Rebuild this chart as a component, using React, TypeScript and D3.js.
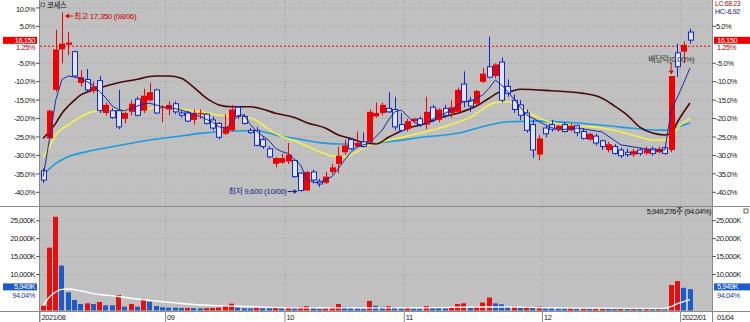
import React from 'react';
import * as d3 from 'd3';

const W = 750;
const H = 322;
const PLOT_L = 40;
const PLOT_R = 712;
const PRICE_TOP = 0;
const PRICE_BOT = 206;
const VOL_TOP = 207;
const VOL_BOT = 311;
const SLOTS = 107;

const STOCK_NAME = '코세스';
const BASE_PRICE = 15950;
const LAST_PRICE = 16150;
const LAST_CHANGE = '1.25%';
const HIGH_TEXT = '최고 17,350 (08/06)';
const LOW_TEXT = '최저 9,600 (10/06)';
const HIGH_INDEX = 3;
const LOW_INDEX = 41;
const EXDIV_INDEX = 100;
const EXDIV_TEXT = '배당락(0.00%)';
const LC_TEXT = 'LC:68.23';
const HC_TEXT = 'HC:-6.92';
const VOL_LAST = '5,949K';
const VOL_RATIO = '94.04%';
const VOL_TEXT = '5,949,276주 (94.04%)';
const CURRENT_DATE = '01/04';

const PCT_TICKS = [10, 5, -5, -10, -15, -20, -25, -30, -35, -40];
const VOL_TICKS = [10000, 15000, 20000, 25000];
const MONTH_LABELS = ['2021/08', '09', '10', '11', '12', '2022/01'];
const MONTH_START = [0, 20, 39, 58, 80, 102];

const OPEN = [10500, 11900, 14000, 15750, 15950, 15650, 14300, 14450, 13950, 14400, 13000, 13100, 13100, 12750, 13050, 13600, 13100, 13550, 14000, 13200, 13150, 13400, 13000, 13000, 12700, 12950, 12950, 12700, 12550, 12100, 12250, 13250, 12850, 12250, 12250, 11850, 11450, 10800, 10850, 10900, 10950, 10400, 9650, 10450, 10050, 9980, 10450, 10800, 11300, 11850, 11550, 11750, 11750, 12850, 13000, 13200, 13150, 12500, 12300, 12650, 12750, 12500, 13250, 12700, 13200, 13000, 13050, 14250, 13550, 13400, 14350, 15000, 14600, 15200, 14150, 13550, 13350, 13000, 12500, 11200, 12350, 12500, 12300, 12500, 12250, 12450, 12200, 11850, 12000, 11800, 11400, 11550, 11400, 11300, 11200, 11400, 11250, 11450, 11300, 11500, 11400, 15600, 15650, 16500];
const HIGH = [10600, 13150, 16600, 17350, 16500, 15700, 14850, 14900, 14350, 14600, 13450, 13200, 14000, 13050, 13550, 13700, 14050, 14300, 14050, 13350, 13500, 13500, 13100, 13100, 13150, 13150, 13000, 12850, 12600, 12950, 13350, 13300, 12950, 12350, 12400, 11950, 11550, 11100, 11250, 11700, 11000, 10450, 10500, 10550, 10150, 10450, 10800, 11550, 11850, 11900, 12200, 12150, 13150, 13450, 13450, 13900, 13700, 13000, 12750, 12800, 12850, 13700, 13350, 13200, 13350, 13550, 14100, 14800, 13700, 14000, 14950, 16300, 15150, 15400, 14450, 13800, 13550, 13150, 12700, 12050, 12450, 12700, 12500, 12600, 12550, 12500, 12350, 12150, 12100, 11850, 11750, 11650, 11500, 11450, 11450, 11500, 11550, 11550, 11550, 11600, 14600, 16000, 16100, 16650];
const LOW = [9970, 11850, 13900, 15150, 15500, 14550, 14150, 13950, 13850, 13000, 12900, 12750, 12300, 12550, 12900, 12850, 13000, 13500, 12950, 12600, 12900, 12950, 12800, 12600, 12500, 12750, 12500, 12250, 11850, 12050, 12200, 12750, 12500, 12100, 11550, 11450, 11050, 10650, 10800, 10800, 10200, 9600, 9620, 9960, 9800, 9930, 10350, 10400, 11200, 11400, 11500, 11500, 11700, 12800, 12900, 13000, 12250, 12200, 12200, 12600, 12400, 12300, 12600, 12600, 12800, 12800, 13000, 13250, 13050, 13300, 14300, 14500, 14500, 13450, 13700, 13000, 12700, 12150, 11050, 10950, 11950, 12200, 12200, 12150, 12200, 12000, 11850, 11800, 11600, 11400, 11300, 11200, 11050, 11100, 11100, 11150, 11200, 11150, 11250, 11200, 11300, 14550, 15150, 16000];
const CLOSE = [10100, 13100, 15750, 16000, 16050, 14600, 14550, 14000, 14150, 13100, 13350, 12800, 12400, 13000, 13400, 12900, 13750, 13900, 13000, 13250, 13350, 13050, 12900, 12650, 13000, 13000, 12550, 12350, 11950, 12400, 13150, 12850, 12550, 12150, 11600, 11550, 11100, 11050, 11050, 11200, 10250, 9650, 10450, 10100, 9930, 10250, 10650, 11150, 11600, 11450, 11700, 11550, 13050, 13000, 13350, 13050, 12400, 12250, 12650, 12750, 12500, 13050, 12700, 13150, 12900, 13250, 14000, 13500, 13300, 13950, 14700, 14550, 15100, 13550, 13850, 13150, 12900, 12250, 11400, 11900, 12100, 12300, 12450, 12200, 12450, 12150, 11900, 12100, 11700, 11550, 11650, 11250, 11150, 11200, 11350, 11250, 11450, 11250, 11450, 11250, 14600, 15000, 15950, 16150];
const VOLUME_K = [1340, 17500, 26100, 12500, 5060, 2920, 1810, 2000, 1810, 2370, 1450, 1450, 4320, 1060, 1810, 1060, 2920, 2450, 1250, 900, 780, 780, 700, 720, 650, 600, 650, 700, 800, 1400, 1900, 780, 600, 550, 700, 600, 600, 650, 600, 900, 800, 1000, 1200, 700, 500, 600, 900, 1800, 1000, 700, 600, 500, 2650, 1300, 1000, 1200, 900, 600, 800, 600, 500, 1200, 800, 700, 600, 800, 1800, 2000, 900, 1200, 2200, 3600, 2000, 1720, 1250, 1260, 970, 1060, 970, 1060, 700, 700, 600, 600, 620, 500, 520, 450, 460, 500, 450, 400, 450, 400, 450, 400, 450, 400, 450, 400, 7100, 8200, 6326, 5949];

// moving averages: [candle index, price]
const MA5 = [[0, 10250], [1, 11850], [2, 13550], [3, 14450], [4, 14600], [5, 14550], [6, 14500], [7, 14350], [8, 14200], [10, 13650], [11, 13300], [12, 13150], [13, 13100], [14, 13200], [15, 13300], [16, 13400], [17, 13420], [19, 13270], [20, 13250], [22, 13130], [24, 12950], [25, 12850], [27, 12600], [28, 12400], [29, 12340], [30, 12550], [31, 12900], [32, 12910], [33, 12500], [34, 12200], [36, 11800], [37, 11470], [38, 11330], [39, 11250], [41, 10750], [42, 10150], [43, 10000], [44, 9980], [46, 10250], [47, 10600], [48, 10970], [49, 11300], [50, 11540], [52, 11700], [54, 12260], [55, 12700], [56, 13050], [57, 13130], [58, 12870], [59, 12620], [60, 12480], [61, 12550], [62, 12730], [63, 12870], [64, 12990], [65, 13130], [66, 13350], [67, 13490], [68, 13490], [70, 13780], [71, 14070], [72, 14430], [73, 14210], [74, 13920], [77, 12910], [80, 12480], [82, 12260], [85, 12350], [89, 12180], [92, 11620], [97, 11400], [99, 11400], [100, 13090], [101, 13690], [102, 14300], [103, 14950]];
const MA_BROWN = [[0, 11900], [2, 12550], [3, 12990], [4, 13300], [5, 13560], [6, 13780], [8, 14000], [10, 14170], [12, 14310], [15, 14460], [17, 14580], [18, 14600], [20, 14600], [22, 14500], [24, 14110], [26, 13640], [28, 13350], [30, 13270], [33, 13270], [35, 13160], [37, 12990], [40, 12810], [42, 12580], [45, 12340], [47, 12050], [49, 11900], [51, 11720], [53, 11660], [55, 11950], [58, 12340], [61, 12550], [63, 12770], [66, 12990], [69, 13300], [71, 13640], [73, 13920], [74, 13920], [76, 14030], [81, 13960], [86, 13850], [89, 13640], [91, 13300], [93, 12910], [95, 12390], [97, 12130], [99, 12050], [100, 12130], [101, 12610], [102, 13040], [103, 13430]];
const MA_YELLOW = [[0, 11110], [1, 11540], [2, 12050], [4, 12480], [6, 12840], [8, 13060], [11, 13130], [14, 13130], [17, 13200], [19, 13300], [22, 13160], [25, 13060], [28, 12910], [32, 12840], [34, 12670], [35, 12480], [37, 12120], [41, 11690], [44, 11330], [46, 11150], [48, 11110], [50, 11330], [52, 11620], [54, 11760], [58, 12000], [63, 12340], [68, 12810], [72, 13450], [74, 13490], [76, 13220], [79, 12780], [82, 12520], [85, 12440], [89, 12350], [92, 12180], [95, 11960], [97, 11830], [99, 11830], [100, 11960], [101, 12350], [103, 12780]];
const MA_SKY = [[0, 10320], [2, 10820], [4, 11110], [7, 11330], [11, 11540], [14, 11690], [17, 11830], [21, 11970], [25, 12120], [28, 12190], [33, 12230], [35, 12190], [37, 12050], [41, 11860], [44, 11720], [47, 11660], [50, 11660], [52, 11690], [55, 11760], [61, 11970], [66, 12120], [71, 12480], [74, 12620], [79, 12650], [85, 12570], [92, 12390], [98, 12260], [100, 12260], [101, 12390], [103, 12570]];
const VOL_MA = [[0, 1390], [1, 3760], [2, 5150], [3, 5900], [4, 5990], [6, 5430], [9, 4450], [12, 3900], [15, 3200], [18, 2650], [21, 2140], [24, 1670], [28, 1340], [33, 1110], [40, 750], [50, 750], [60, 750], [70, 970], [75, 970], [80, 750], [90, 640], [99, 560], [100, 1110], [101, 1900], [102, 2500], [103, 3000]];

const FONT = "'Liberation Sans', 'Noto Sans CJK KR', sans-serif";
const RED = '#f00000';
const BLUE = '#1028d0';
const BG = '#c0c0c0';
const GRID = '#a4a4a4';

export default function App() {
  const x = d3.scaleBand<number>().domain(d3.range(SLOTS)).range([PLOT_L, PLOT_R]).paddingInner(0.2).paddingOuter(0.1);
  const bw = x.bandwidth();
  const step = x.step();
  const cx = (i: number) => (x(i) ?? 0) + bw / 2;
  const slotLeft = (i: number) => (x(i) ?? 0) - step * 0.1;
  const pct = (p: number) => (p / BASE_PRICE - 1) * 100;
  const yPct = d3.scaleLinear().domain([-40, 10]).range([192.3, 7.9]);
  const yP = (p: number) => yPct(pct(p));
  const yV = d3.scaleLinear().domain([0, 25000]).range([310.5, 220.7]);

  const maLine = d3.line<number[]>().x(d => cx(d[0])).y(d => yP(d[1])).curve(d3.curveMonotoneX);
  const ma5Line = d3.line<number[]>().x(d => cx(d[0])).y(d => yP(d[1]));
  const volLine = d3.line<number[]>().x(d => cx(d[0])).y(d => yV(d[1])).curve(d3.curveMonotoneX);

  const txt = { fontFamily: FONT, fontSize: 7.5, letterSpacing: -0.45 } as const;
  const ann = { fontFamily: FONT, fontSize: 8, letterSpacing: -0.4 } as const;
  const small = { fontFamily: FONT, fontSize: 7, letterSpacing: -0.4 } as const;
  const yLast = yP(LAST_PRICE);
  const yBase = yP(BASE_PRICE);
  const yVolBox = yV(6600);

  return (
    <svg width={W} height={H} style={{ position: 'absolute', left: 0, top: 0, background: '#fff' }}>
      <rect x={0} y={0} width={W} height={H} fill="#fff" />
      <rect x={PLOT_L} y={PRICE_TOP} width={PLOT_R - PLOT_L} height={PRICE_BOT - PRICE_TOP} fill={BG} />
      <rect x={PLOT_L} y={VOL_TOP} width={PLOT_R - PLOT_L} height={VOL_BOT - VOL_TOP} fill={BG} />

      {/* grid */}
      {PCT_TICKS.map(t => (
        <line key={'gp' + t} x1={PLOT_L} x2={PLOT_R} y1={yPct(t)} y2={yPct(t)} stroke={GRID} strokeDasharray="1 2" />
      ))}
      {VOL_TICKS.map(t => (
        <line key={'gv' + t} x1={PLOT_L} x2={PLOT_R} y1={yV(t)} y2={yV(t)} stroke={GRID} strokeDasharray="1 2" />
      ))}
      {MONTH_START.slice(1).map(i => (
        <g key={'gm' + i}>
          <line x1={slotLeft(i)} x2={slotLeft(i)} y1={PRICE_TOP} y2={PRICE_BOT} stroke={GRID} strokeDasharray="1 2" />
          <line x1={slotLeft(i)} x2={slotLeft(i)} y1={VOL_TOP} y2={VOL_BOT} stroke={GRID} strokeDasharray="1 2" />
        </g>
      ))}

      {/* base price dashed line */}
      <line x1={PLOT_L} x2={PLOT_R} y1={yBase + 1.5} y2={yBase + 1.5} stroke={RED} strokeDasharray="2 2" strokeWidth={1} />

      {/* moving averages */}
      <path d={maLine(MA_SKY) ?? ''} fill="none" stroke="#1e9be0" strokeWidth={1.6} />
      <path d={maLine(MA_YELLOW) ?? ''} fill="none" stroke="#f4f048" strokeWidth={1.6} />
      <path d={maLine(MA_BROWN) ?? ''} fill="none" stroke="#4a0808" strokeWidth={1.6} />

      {/* candles */}
      {OPEN.map((o, i) => {
        const c = CLOSE[i];
        const up = c >= o;
        const yo = yP(o);
        const yc = yP(c);
        const top = Math.min(yo, yc);
        const bot = Math.max(yo, yc);
        const h = Math.max(bot - top, 1);
        const xc = Math.round(cx(i)) + 0.5;
        const xl = Math.round(cx(i) - bw / 2);
        const w = Math.round(bw);
        const col = up ? RED : BLUE;
        return (
          <g key={'c' + i}>
            <line x1={xc} x2={xc} y1={yP(HIGH[i])} y2={top} stroke={col} />
            <line x1={xc} x2={xc} y1={top + h} y2={yP(LOW[i])} stroke={col} />
            {up ? (
              <rect x={xl} y={top} width={w + 1} height={h} fill={RED} />
            ) : (
              <rect x={xl + 0.5} y={top} width={w} height={h} fill="#e4e4ec" stroke={BLUE} strokeWidth={1} />
            )}
          </g>
        );
      })}
      <path d={ma5Line(MA5) ?? ''} fill="none" stroke="#1a2aa8" strokeWidth={1} />

      {/* volume bars */}
      {VOLUME_K.map((v, i) => {
        const prev = i === 0 ? 0 : VOLUME_K[i - 1];
        const col = v > prev ? '#e41010' : '#1d5cc6';
        const xl = Math.round(cx(i) - bw / 2);
        return <rect key={'v' + i} x={xl} y={yV(v)} width={Math.round(bw)} height={yV(0) - yV(v)} fill={col} />;
      })}
      <path d={volLine(VOL_MA) ?? ''} fill="none" stroke="#ffffff" strokeWidth={1.3} />

      {/* frames */}
      <line x1={0} x2={W} y1={206.5} y2={206.5} stroke="#8a8a8a" />
      <line x1={0} x2={W} y1={VOL_BOT + 0.5} y2={VOL_BOT + 0.5} stroke="#8a8a8a" />
      <line x1={PLOT_L - 0.5} x2={PLOT_L - 0.5} y1={0} y2={H} stroke="#8a8a8a" />
      <line x1={PLOT_R + 0.5} x2={PLOT_R + 0.5} y1={0} y2={H} stroke="#8a8a8a" />

      {/* price axis ticks and labels */}
      {PCT_TICKS.map(t => (
        <g key={'tl' + t}>
          <line x1={PLOT_L - 4} x2={PLOT_L} y1={yPct(t)} y2={yPct(t)} stroke="#555" />
          <text x={PLOT_L - 5} y={yPct(t) + (t === 10 ? 4.5 : 2.7)} textAnchor="end" {...txt} fill="#222">{t.toFixed(1)}%</text>
        </g>
      ))}
      {PCT_TICKS.filter(t => t !== 10).map(t => (
        <g key={'tr' + t}>
          <line x1={PLOT_R} x2={PLOT_R + 4} y1={yPct(t)} y2={yPct(t)} stroke="#555" />
          <text x={PLOT_R + 4} y={yPct(t) + 2.7} {...txt} fill="#222">{t.toFixed(1)}%</text>
        </g>
      ))}
      <text x={PLOT_R + 3} y={6} {...small} fill="#b01010">{LC_TEXT}</text>
      <text x={PLOT_R + 3} y={14} {...small} fill="#101080">{HC_TEXT}</text>

      {/* last price boxes */}
      <rect x={3} y={yLast - 3.3} width={34} height={7} fill={RED} />
      <text x={35} y={yLast + 2.6} textAnchor="end" {...txt} fill="#fff">{d3.format(',')(LAST_PRICE)}</text>
      <text x={35} y={yLast + 10.3} textAnchor="end" {...txt} fill="#c00000">{LAST_CHANGE}</text>
      <rect x={PLOT_R + 2} y={yLast - 3.3} width={36} height={7} fill={RED} />
      <text x={PLOT_R + 5} y={yLast + 2.6} {...txt} fill="#fff">{d3.format(',')(LAST_PRICE)}</text>
      <text x={PLOT_R + 5} y={yLast + 10.3} {...txt} fill="#c00000">{LAST_CHANGE}</text>

      {/* volume axis */}
      {VOL_TICKS.map(t => (
        <g key={'vt' + t}>
          <line x1={PLOT_L - 4} x2={PLOT_L} y1={yV(t)} y2={yV(t)} stroke="#555" />
          <text x={PLOT_L - 5} y={yV(t) + 2.7} textAnchor="end" {...txt} fill="#222">{d3.format(',')(t)}K</text>
          <line x1={PLOT_R} x2={PLOT_R + 4} y1={yV(t)} y2={yV(t)} stroke="#555" />
          <text x={PLOT_R + 4} y={yV(t) + 2.7} {...txt} fill="#222">{d3.format(',')(t)}K</text>
        </g>
      ))}
      <rect x={3} y={yVolBox - 3.4} width={34} height={7} fill="#1d5cc6" />
      <text x={35} y={yVolBox + 2.6} textAnchor="end" {...txt} fill="#fff">{VOL_LAST}</text>
      <text x={35} y={yVolBox + 11} textAnchor="end" {...txt} fill="#1d3ca0">{VOL_RATIO}</text>
      <rect x={PLOT_R + 2} y={yVolBox - 3.4} width={36} height={7} fill="#1d5cc6" />
      <text x={PLOT_R + 5} y={yVolBox + 2.6} {...txt} fill="#fff">{VOL_LAST}</text>
      <text x={PLOT_R + 5} y={yVolBox + 11} {...txt} fill="#1d3ca0">{VOL_RATIO}</text>
      <text x={PLOT_R - 1} y={214} textAnchor="end" {...txt} fill="#111">{VOL_TEXT}</text>
      <rect x={744} y={209} width={4} height={4} fill="none" stroke="#444" strokeWidth={0.8} />

      {/* date axis */}
      {MONTH_START.map((i, k) => (
        <g key={'d' + i}>
          <line x1={slotLeft(i)} x2={slotLeft(i)} y1={VOL_BOT} y2={H} stroke="#8a8a8a" />
          <text x={slotLeft(i) + 1.5} y={319.5} {...txt} fill="#222">{MONTH_LABELS[k]}</text>
        </g>
      ))}
      <text x={PLOT_R + 5} y={319.5} {...txt} fill="#222">{CURRENT_DATE}</text>

      {/* title */}
      <rect x={41} y={3} width={3.5} height={3.5} fill="none" stroke="#555" strokeWidth={0.8} />
      <text x={47} y={8} {...txt} fill="#111">{STOCK_NAME}</text>

      {/* annotations */}
      <g>
        <line x1={cx(HIGH_INDEX) + 4} x2={cx(HIGH_INDEX) + 11} y1={16} y2={16} stroke="#e00000" />
        <path d={`M${cx(HIGH_INDEX) + 3},16 l4,-2.5 l0,5 z`} fill="#e00000" />
        <text x={cx(HIGH_INDEX) + 12} y={18.8} {...ann} fill="#d00000">{HIGH_TEXT}</text>
      </g>
      <g>
        <text x={cx(LOW_INDEX) - 14} y={194.3} textAnchor="end" {...ann} fill="#1a2a90">{LOW_TEXT}</text>
        <line x1={cx(LOW_INDEX) - 13} x2={cx(LOW_INDEX) - 5} y1={191.5} y2={191.5} stroke="#1a2a90" />
        <path d={`M${cx(LOW_INDEX) - 3},191.5 l-4,-2.5 l0,5 z`} fill="#1a2a90" />
      </g>
      <g>
        <text x={cx(EXDIV_INDEX) - 23} y={62} {...ann} fill="#333">{EXDIV_TEXT}</text>
        <line x1={cx(EXDIV_INDEX)} x2={cx(EXDIV_INDEX)} y1={62.5} y2={70} stroke="#e00000" />
        <path d={`M${cx(EXDIV_INDEX)},${yP(HIGH[EXDIV_INDEX]) - 1.5} l-2.5,-4 l5,0 z`} fill="#e00000" />
      </g>
    </svg>
  );
}
